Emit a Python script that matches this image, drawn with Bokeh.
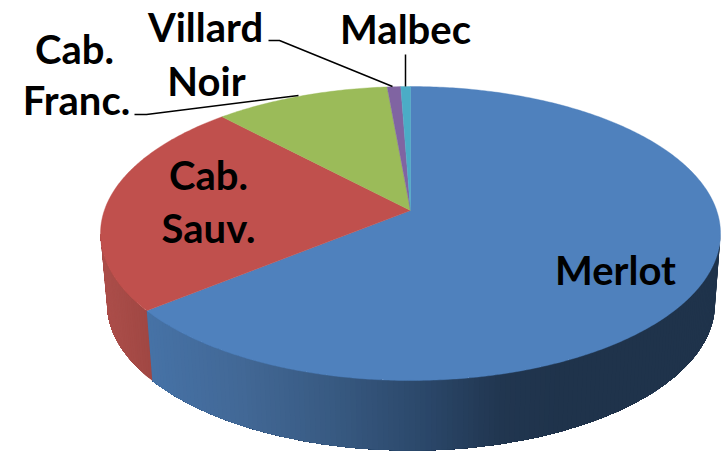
import numpy as np
from bokeh.plotting import figure
from bokeh.models import Range1d
from bokeh.core.properties import value
from bokeh.embed import file_html
from bokeh.resources import INLINE

# data (clockwise from 12 o'clock), shares in percent
categories = ["Merlot", "Cab. Sauv.", "Cab. Franc.", "Villard Noir", "Malbec"]
shares = [66.2, 23.4, 9.2, 0.7, 0.5]
top_colors = ["#4f81bd", "#c0504d", "#9bbb59", "#8064a2", "#4bacc6"]

# geometry of the projected disc, in page pixels
CX, CY, RX, RY = 410.0, 233.0, 310.0, 147.0      # top rim
BX, BY, BRX, BRY = 410.5, 303.0, 304.0, 147.0    # bottom rim
AX, AY = 410.0, 210.0                            # apex

W, H = 724, 451
p = figure(width=W, height=H, x_range=Range1d(0, W), y_range=Range1d(H, 0),
           output_backend="svg", toolbar_location=None, min_border=0,
           outline_line_color=None, background_fill_color="white", border_fill_color="white")
p.axis.visible = False
p.grid.visible = False


def top_rim(t):
    return CX + RX * np.sin(t), CY - RY * np.cos(t)


def bottom_rim(t):
    return BX + BRX * np.sin(t), BY - BRY * np.cos(t)


def mix(stops, x):
    xs, cols = zip(*stops)
    ch = [np.interp(x, xs, [c[i] for c in cols]) for i in range(3)]
    return "#%02x%02x%02x" % tuple(int(round(v)) for v in ch)


blue_side = [(147, (70, 114, 166)), (240, (66, 104, 150)), (330, (56, 90, 130)),
             (430, (42, 70, 104)), (500, (33, 54, 80)), (560, (31, 51, 75)), (720, (31, 51, 75))]
red_side = [(100, (172, 78, 74)), (147, (160, 71, 67))]

edges = np.cumsum([0.0] + shares) / 100.0 * 2 * np.pi

# side wall: visible part of each slice, drawn as overlapping shaded strips
for i, stops in ((0, blue_side), (1, red_side)):
    a0 = max(edges[i], np.pi / 2)
    a1 = min(edges[i + 1], 3 * np.pi / 2)
    n = max(2, int((a1 - a0) / np.radians(1.0)))
    ts = np.linspace(a0, a1, n + 1)
    xs, ys, cs = [], [], []
    for k in range(n):
        arc = np.linspace(ts[k], a1, max(2, (n - k) + 1))
        x0, y0 = top_rim(arc)
        x1, y1 = bottom_rim(arc[::-1])
        xs.append(np.r_[x0, x1])
        ys.append(np.r_[y0, y1])
        cs.append(mix(stops, top_rim((ts[k] + ts[k + 1]) / 2)[0]))
    p.patches(xs, ys, fill_color=cs, line_color=None)

# top face
for i, col in enumerate(top_colors):
    ts = np.linspace(edges[i], edges[i + 1], max(3, int(shares[i] * 6)))
    x, y = top_rim(ts)
    p.patch(np.r_[AX, x], np.r_[AY, y], fill_color=col, line_color=col, line_width=0.4)

# leader lines
leaders_x = [[134, 146, 298], [268, 279, 392], [405, 405]]
leaders_y = [[114, 114, 95], [40, 40, 86], [54, 86]]
p.multi_line(leaders_x, leaders_y, line_color="black", line_width=1.5)

# labels
label_lines = ["Merlot", "Cab.", "Sauv.", "Cab.", "Franc.", "Noir", "Villard", "Malbec"]
label_x = [615, 208, 208, 74, 76, 206, 205, 405]
label_y = [269, 174, 227, 48, 99, 80, 26, 28]
p.text(label_x, label_y, text=label_lines, text_font=value("Lato"), text_font_style="bold",
       text_font_size="40px", text_color="black", text_align="center", text_baseline="alphabetic")

open("out.html", "w").write(file_html(p, INLINE))
